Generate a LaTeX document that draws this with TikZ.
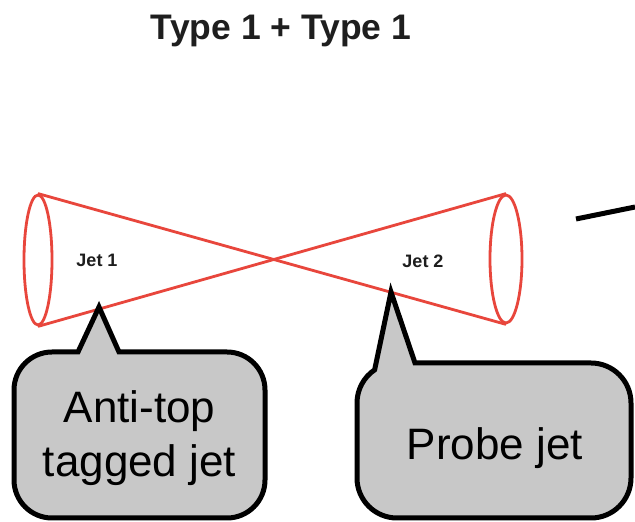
\documentclass[tikz,border=0pt]{standalone}
\usepackage{fontspec}
\setmainfont{Liberation Sans}
\usetikzlibrary{shapes.geometric}
\definecolor{conered}{RGB}{232,70,60}
\definecolor{bubblegray}{RGB}{200,200,200}
\definecolor{labelink}{RGB}{30,30,30}
\begin{document}
\begin{tikzpicture}[x=1pt,y=1pt,
  cone/.style={draw=conered,line width=2.8pt},
  coneend/.style={cone,ellipse,inner sep=0pt,minimum width=28pt,minimum height=130pt},
  bubble/.style={draw=black,fill=bubblegray,line width=5pt,line join=miter},
  bubbletext/.style={font=\fontsize{44}{54}\selectfont,align=center,inner sep=0pt,text=black},
  jetlabel/.style={font=\bfseries\fontsize{18}{21}\selectfont,inner sep=0pt,anchor=base,text=labelink},
]
\useasboundingbox (0,0) rectangle (635,522);
\fill[white] (0,0) rectangle (635,522);

% heading
\node[font=\bfseries\fontsize{35.5}{40}\selectfont,anchor=base,inner sep=0pt,text=labelink]
  (title) at (281,482) {Type 1 + Type 1};

% the two back-to-back jet cones
\node[coneend] (jetoneend) at (38,262) {};
\node[coneend,minimum width=32pt,minimum height=128pt] (jettwoend) at (506,263) {};
\draw[cone] (jetoneend.north) -- (jettwoend.south);
\draw[cone] (jetoneend.south) -- (jettwoend.north);

\node[jetlabel] (jetonelabel) at (97,255) {Jet 1};
\node[jetlabel] (jettwolabel) at (423,254) {Jet 2};

% callout for jet 1
\draw[bubble] (78,170) -- (99,215) -- (119,170) -- (227,170)
  arc[start angle=90,end angle=0,radius=38] -- (265,42)
  arc[start angle=0,end angle=-90,radius=38] -- (52,4)
  arc[start angle=270,end angle=180,radius=38] -- (14,132)
  arc[start angle=180,end angle=90,radius=38] -- cycle;
\node[bubbletext] (tagtext) at (139.5,84) {Anti-top\\tagged jet};

% callout for jet 2
\draw[bubble] (415,159) -- (591,159)
  arc[start angle=90,end angle=0,radius=40] -- (631,44)
  arc[start angle=0,end angle=-90,radius=40] -- (397,4)
  arc[start angle=270,end angle=180,radius=40] -- (357,119)
  arc[start angle=180,end angle=124,radius=40] -- (391,230) -- cycle;
\node[bubbletext,anchor=base] (probetext) at (495,62) {Probe jet};

% pointer stroke entering from the right
\coordinate (pointerstart) at (576,303);
\coordinate (pointerend) at (635,315);
\draw[line width=5pt] (pointerstart) -- (pointerend);
\end{tikzpicture}
\end{document}
